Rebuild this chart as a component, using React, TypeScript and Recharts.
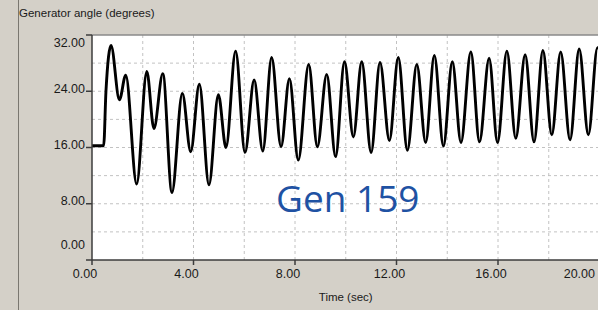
import React from 'react';
import { LineChart, Line, XAxis, YAxis, ReferenceLine } from 'recharts';

// Time (sec) of each read extremum and the generator angle (degrees) there
const TIME = [
  0, 0.46, 0.55, 0.75, 1.08, 1.33, 1.76, 2.16, 2.44, 2.79, 3.15, 3.56, 3.89,
  4.23, 4.61, 4.98, 5.28, 5.66, 6.03, 6.39, 6.73, 7.08, 7.45, 7.78,
  8.13, 8.54, 8.88, 9.25, 9.6, 9.95, 10.3, 10.63, 11.0, 11.35, 11.72,
  12.07, 12.43, 12.8, 13.15, 13.49, 13.85, 14.2, 14.54, 14.93, 15.27, 15.65,
  15.98, 16.35, 16.7, 17.07, 17.42, 17.77, 18.12, 18.47, 18.84, 19.2, 19.56, 19.92, 20.2,
];
const ANGLE = [
  16.25, 16.25, 24.0, 30.5, 22.8, 26.3, 10.8, 26.8, 18.7, 26.5, 9.6, 23.7, 15.4,
  25.0, 10.7, 23.5, 16.0, 29.7, 15.3, 25.6, 15.5, 28.8, 16.1, 25.8,
  14.2, 27.8, 16.1, 26.4, 14.7, 28.2, 17.5, 28.2, 15.3, 28.1, 17.0,
  28.8, 15.6, 27.8, 16.7, 29.1, 16.2, 28.2, 16.7, 29.6, 16.8, 28.7,
  16.7, 29.7, 17.3, 29.2, 16.8, 29.8, 17.8, 29.6, 17.1, 30.0, 17.8, 30.2, 25.0,
];

const X_TICKS = [0, 4, 8, 12, 16, 20];
const Y_TICKS = [0, 8, 16, 24, 32];
const X_GRID = [2, 4, 6, 8, 10, 12, 14, 16, 18];
const Y_GRID = [4, 8, 12, 16, 20, 24, 28];

const data = TIME.map((t, i) => ({ t, v: ANGLE[i] }));

const FONT = '"Liberation Sans", Arial, sans-serif';
const BG = '#d4d0c8';

const YTick = (props: any) => {
  const { x, y, payload } = props;
  const v = payload.value;
  let dy = -2.5;
  if (v === 32) dy = 7.5;
  if (v === 0) dy = -15;
  return (
    <text x={x} y={y + dy} textAnchor="end" dominantBaseline="central" fontFamily={FONT} fontSize={12.5} fill="#1a1a1a">
      {v.toFixed(2)}
    </text>
  );
};

const XTick = (props: any) => {
  const { x, y, payload } = props;
  const v = payload.value;
  const last = v === 20;
  return (
    <text x={last ? x - 4.5 : x - 7} y={y + 11} textAnchor={last ? 'end' : 'middle'} fontFamily={FONT} fontSize={12.5} fill="#1a1a1a">
      {v.toFixed(2)}
    </text>
  );
};

export default function App() {
  return (
    <div style={{ position: 'absolute', left: 0, top: 0, width: 598, height: 310, background: BG, overflow: 'hidden' }}>
      <div style={{ position: 'absolute', left: 18, top: 0, width: 1, height: 310, background: '#7a7770' }} />
      <div style={{ position: 'absolute', left: 0, top: 0 }}>
        <LineChart width={612} height={310} data={data} margin={{ top: 35, right: 12.5, left: 0, bottom: 0 }}>
          <rect x={92} y={35} width={520} height={225} fill="#ffffff" />
          <XAxis
            dataKey="t"
            type="number"
            domain={[0, 20]}
            ticks={X_TICKS}
            allowDataOverflow
            height={50}
            tickSize={5}
            tickMargin={2}
            axisLine={{ stroke: '#3c3c3c', strokeWidth: 1.5 }}
            tickLine={{ stroke: '#3c3c3c', strokeWidth: 1.5 }}
            tick={<XTick />}
            label={{ value: 'Time (sec)', position: 'insideBottom', offset: 9, fill: '#1a1a1a', fontSize: 11.5, fontFamily: FONT }}
          />
          <YAxis
            type="number"
            domain={[0, 32]}
            ticks={Y_TICKS}
            allowDataOverflow
            width={92}
            tickSize={6}
            tickMargin={1}
            axisLine={{ stroke: '#3c3c3c', strokeWidth: 1.5 }}
            tickLine={{ stroke: '#3c3c3c', strokeWidth: 1.5 }}
            tick={<YTick />}
          />
          {X_GRID.map((g) => (
            <ReferenceLine key={'x' + g} x={g} stroke="#c2c2c2" strokeDasharray="3 3" />
          ))}
          {Y_GRID.map((g) => (
            <ReferenceLine key={'y' + g} y={g} stroke="#c2c2c2" strokeDasharray="3 3" />
          ))}
          <ReferenceLine y={32} stroke="#8a8a8a" strokeWidth={1.5} />
          <Line
            dataKey="v"
            type="monotone"
            stroke="#000000"
            strokeWidth={2.9}
            dot={false}
            isAnimationActive={false}
          />
        </LineChart>
      </div>
      <div style={{ position: 'absolute', left: 19, top: 5, fontFamily: FONT, fontSize: 11.5, color: '#1a1a1a', lineHeight: '16px', whiteSpace: 'nowrap' }}>
        Generator angle (degrees)
      </div>
      <svg width={598} height={310} style={{ position: 'absolute', left: 0, top: 0, pointerEvents: 'none' }}>
        <text x={276} y={212} fontFamily='"Open Sans", "Noto Sans", sans-serif' fontSize={37} fill="#1f52a3">
          Gen 159
        </text>
      </svg>
    </div>
  );
}
